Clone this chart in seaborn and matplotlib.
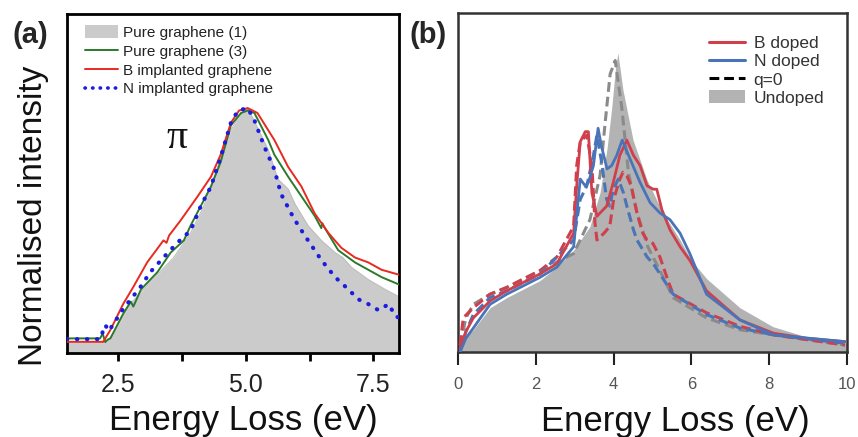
import matplotlib
matplotlib.use("Agg")
import matplotlib.pyplot as plt
import seaborn as sns
from matplotlib.lines import Line2D
from matplotlib.patches import Patch
from matplotlib.ticker import MultipleLocator

# ---- panel (a): measured low-loss spectra (normalised to pi peak) ----
e_pure1 = [1.5, 2.3, 2.48, 2.74, 3.0, 3.27, 3.59, 3.92, 4.18, 4.45, 4.71, 4.91, 5.04,
           5.23, 5.44, 5.63, 5.83, 5.96, 6.22, 6.48, 6.75, 6.9, 7.07, 7.4, 7.73, 8.0]
i_pure1 = [0.045, 0.045, 0.107, 0.20, 0.26, 0.32, 0.39, 0.49, 0.60, 0.76, 0.91, 0.98, 1.0,
           0.92, 0.83, 0.71, 0.67, 0.61, 0.52, 0.46, 0.41, 0.39, 0.35, 0.30, 0.26, 0.23]

e_pure3 = [1.5, 2.15, 2.2, 2.25, 2.3, 2.35, 2.6, 2.75, 2.8, 2.95, 3.27, 3.53, 3.79, 3.92,
           4.12, 4.32, 4.51, 4.71, 4.91, 5.04, 5.17, 5.44, 5.56, 5.83, 6.09, 6.35, 6.48,
           6.5, 6.55, 6.81, 7.14, 7.4, 7.66, 8.0]
i_pure3 = [0.06, 0.06, 0.08, 0.045, 0.055, 0.06, 0.16, 0.21, 0.19, 0.26, 0.33, 0.41, 0.46, 0.52,
           0.60, 0.68, 0.78, 0.93, 0.98, 0.99, 0.98, 0.87, 0.81, 0.72, 0.64, 0.56, 0.51,
           0.53, 0.51, 0.42, 0.37, 0.34, 0.31, 0.28]

e_bimp = [1.5, 2.21, 2.35, 2.6, 2.8, 3.07, 3.39, 3.45, 3.5, 3.72, 4.06, 4.32, 4.51, 4.71,
          4.87, 5.04, 5.23, 5.56, 5.83, 6.09, 6.35, 6.62, 6.87, 7.14, 7.4, 7.66, 8.0]
i_bimp = [0.046, 0.046, 0.094, 0.20, 0.27, 0.37, 0.46, 0.45, 0.48, 0.54, 0.64, 0.72, 0.81, 0.94,
          0.99, 1.0, 0.98, 0.87, 0.76, 0.68, 0.57, 0.49, 0.43, 0.39, 0.37, 0.34, 0.32]

e_nimp = [1.5, 2.15, 2.25, 2.32, 2.6, 2.94, 3.13, 3.39, 3.66, 3.92, 4.12, 4.32, 4.51, 4.71,
          4.85, 5.04, 5.17, 5.37, 5.56, 5.69, 5.89, 6.03, 6.22, 6.48, 6.75, 7.01, 7.2, 7.4,
          7.6, 7.8, 7.93, 8.0]
i_nimp = [0.057, 0.057, 0.115, 0.09, 0.18, 0.27, 0.33, 0.39, 0.45, 0.50, 0.60, 0.68, 0.80, 0.94,
          0.99, 1.0, 0.95, 0.84, 0.75, 0.65, 0.57, 0.52, 0.46, 0.38, 0.31, 0.26, 0.22, 0.20,
          0.175, 0.20, 0.15, 0.145]

# ---- panel (b): calculated loss functions ----
e_undoped = [0, 0.1, 0.39, 0.82, 1.25, 2.1, 2.54, 2.97, 3.39, 3.65, 3.83, 3.95, 4.05, 4.11,
             4.24, 4.5, 4.86, 5.27, 5.71, 6.0, 6.4, 7.25, 8.1, 8.97, 9.95, 10]
i_undoped = [0, 0.03, 0.065, 0.13, 0.16, 0.21, 0.25, 0.30, 0.37, 0.47, 0.60, 0.72, 0.84, 0.882,
             0.773, 0.625, 0.507, 0.41, 0.33, 0.27, 0.215, 0.13, 0.074, 0.044, 0.027, 0.026]

e_undoped_q0 = [0.05, 0.2, 0.39, 0.82, 1.25, 2.11, 2.97, 3.39, 3.65, 3.78, 3.91, 4.04, 4.21,
                4.38, 4.6, 4.88, 5.19, 5.53, 6.39, 7.25, 8.11, 9.95]
i_undoped_q0 = [0.02, 0.10, 0.14, 0.17, 0.19, 0.24, 0.29, 0.39, 0.52, 0.675, 0.82, 0.86, 0.72,
                0.53, 0.41, 0.31, 0.24, 0.16, 0.10, 0.065, 0.05, 0.02]

e_bdop = [0.05, 0.2, 0.39, 0.82, 1.25, 2.11, 2.54, 2.97, 3.05, 3.14, 3.27, 3.35, 3.44, 3.57,
          3.65, 3.82, 3.99, 4.16, 4.34, 4.51, 4.68, 4.86, 5.02, 5.11, 5.24, 5.45, 5.71, 5.96,
          6.39, 7.25, 8.11, 8.96, 9.95]
i_bdop = [0.01, 0.06, 0.10, 0.15, 0.18, 0.23, 0.26, 0.35, 0.49, 0.62, 0.65, 0.65, 0.47, 0.40,
          0.41, 0.43, 0.50, 0.58, 0.625, 0.58, 0.55, 0.49, 0.48, 0.48, 0.42, 0.36, 0.31, 0.27,
          0.18, 0.094, 0.055, 0.04, 0.03]

e_ndop = [0.05, 0.2, 0.39, 0.82, 1.25, 2.11, 2.54, 2.97, 3.14, 3.27, 3.35, 3.48, 3.6, 3.68,
          3.83, 3.95, 4.08, 4.22, 4.42, 4.68, 4.94, 5.19, 5.45, 5.71, 5.96, 6.39, 7.25, 8.11, 9.95]
i_ndop = [0.0, 0.04, 0.07, 0.14, 0.17, 0.22, 0.25, 0.31, 0.51, 0.49, 0.50, 0.55, 0.66, 0.61,
          0.54, 0.55, 0.58, 0.625, 0.57, 0.50, 0.44, 0.41, 0.39, 0.35, 0.29, 0.17, 0.094, 0.05, 0.03]

e_bdop_q0 = [0.05, 0.13, 0.39, 0.82, 1.25, 2.11, 2.54, 2.97, 3.05, 3.14, 3.31, 3.44, 3.52, 3.57,
             3.75, 3.9, 4.0, 4.16, 4.24, 4.34, 4.45, 4.6, 4.75, 4.86, 5.01, 5.19, 5.4, 5.53,
             6.39, 7.25, 8.11, 9.95]
i_bdop_q0 = [0.02, 0.10, 0.13, 0.17, 0.19, 0.24, 0.28, 0.37, 0.55, 0.62, 0.64, 0.55, 0.38, 0.33,
             0.35, 0.37, 0.45, 0.51, 0.53, 0.52, 0.49, 0.41, 0.35, 0.33, 0.32, 0.28, 0.21, 0.17,
             0.115, 0.075, 0.05, 0.02]

e_ndop_q0 = [0.05, 0.2, 0.39, 0.82, 1.25, 2.11, 2.97, 3.14, 3.31, 3.48, 3.57, 3.69, 3.82, 3.9,
             3.99, 4.12, 4.25, 4.34, 4.51, 4.6, 4.86, 5.02, 5.53, 6.39, 7.25, 8.11, 9.95]
i_ndop_q0 = [0.0, 0.06, 0.11, 0.16, 0.18, 0.23, 0.33, 0.45, 0.49, 0.58, 0.64, 0.56, 0.45, 0.43,
             0.48, 0.51, 0.47, 0.43, 0.36, 0.33, 0.28, 0.26, 0.17, 0.11, 0.07, 0.05, 0.025]

a_ticks = [2.5, 5.0, 7.5]
b_ticks = [0, 2, 4, 6, 8, 10]

sns.set_theme(style="white")
plt.rcParams["font.family"] = ["Liberation Sans", "DejaVu Sans"]

fig = plt.figure(figsize=(8.58, 4.37), dpi=100)
ax_a = fig.add_axes([0.078, 0.192, 0.387, 0.776])
ax_b = fig.add_axes([0.534, 0.195, 0.453, 0.775])

# %% panel (a)
ax_a.fill_between(e_pure1, i_pure1, 0, color="#cbcbcb", lw=0, zorder=1)
ax_a.plot(e_pure1, i_pure1, color="#bdbdbd", lw=0.8, zorder=1.5)
sns.lineplot(x=e_pure3, y=i_pure3, ax=ax_a, color="#2b7a2b", lw=1.4, sort=False, zorder=3)
sns.lineplot(x=e_bimp, y=i_bimp, ax=ax_a, color="#e8291f", lw=1.4, sort=False, zorder=4)
sns.lineplot(x=e_nimp, y=i_nimp, ax=ax_a, color="#1c1ce0", lw=3.0, sort=False, zorder=5,
             linestyle=(0, (0.1, 2.3)), dash_capstyle="round")

ax_a.set_xlim(1.5, 8.0)
ax_a.set_ylim(0, 1.384)
ax_a.set_xticks(a_ticks)
ax_a.set_xticklabels(["2.5", "5.0", "7.5"])
ax_a.xaxis.set_minor_locator(MultipleLocator(1.25))
ax_a.set_yticks([])
ax_a.tick_params(axis="x", which="both", bottom=True, direction="out", length=6, width=2,
                 color="black", labelsize=18, pad=8, labelcolor="#222222")
for sp in ax_a.spines.values():
    sp.set_color("black")
    sp.set_linewidth(2)
ax_a.set_xlabel("Energy Loss (eV)", fontsize=25, color="#111111")
ax_a.xaxis.set_label_coords(0.53, -0.15)
ax_a.set_ylabel("Normalised intensity", fontsize=24, color="#111111")
ax_a.yaxis.set_label_coords(-0.055, 0.404)
ax_a.text(3.65, 0.88, "π", fontsize=30, family=["Liberation Serif", "DejaVu Serif"],
          ha="center", va="center", color="#111111")

h_a = [Patch(facecolor="#cbcbcb", edgecolor="none"),
       Line2D([], [], color="#2b7a2b", lw=1.4),
       Line2D([], [], color="#e8291f", lw=1.4),
       Line2D([], [], color="#1c1ce0", lw=2.6, linestyle=(0, (0.1, 2.0)), dash_capstyle="round")]
l_a = ["Pure graphene (1)", "Pure graphene (3)", "B implanted graphene", "N implanted graphene"]
ax_a.legend(h_a, l_a, loc="upper left", frameon=False, fontsize=11, labelspacing=0.28,
            handlelength=2.2, handleheight=0.9, handletextpad=0.3,
            borderaxespad=0.0, bbox_to_anchor=(0.035, 0.985), labelcolor="#222222")

# %% panel (b)
red, blue, grey = "#d0404c", "#4a74b8", "#8a8a8a"
dash = (0, (3.2, 1.6))
ax_b.fill_between(e_undoped, i_undoped, 0, color="#b3b3b3", lw=0, zorder=1)
sns.lineplot(x=e_undoped_q0, y=i_undoped_q0, ax=ax_b, color=grey, lw=2.2, linestyle=dash,
             sort=False, zorder=2)
sns.lineplot(x=e_bdop_q0, y=i_bdop_q0, ax=ax_b, color=red, lw=2.2, linestyle=dash,
             sort=False, zorder=3)
sns.lineplot(x=e_ndop_q0, y=i_ndop_q0, ax=ax_b, color=blue, lw=2.2, linestyle=dash,
             sort=False, zorder=3)
sns.lineplot(x=e_bdop, y=i_bdop, ax=ax_b, color=red, lw=2.0, sort=False, zorder=4)
sns.lineplot(x=e_ndop, y=i_ndop, ax=ax_b, color=blue, lw=2.0, sort=False, zorder=5)

ax_b.set_xlim(0, 10)
ax_b.set_ylim(0, 1.0)
ax_b.set_xticks(b_ticks)
ax_b.set_yticks([])
ax_b.tick_params(axis="x", bottom=True, direction="out", length=9.5, width=1.5,
                 color="#222222", labelsize=12, pad=9, labelcolor="#555555")
for sp in ax_b.spines.values():
    sp.set_color("#333333")
    sp.set_linewidth(1.8)
ax_b.set_xlabel("Energy Loss (eV)", fontsize=25, color="#111111")
ax_b.xaxis.set_label_coords(0.558, -0.156)

h_b = [Line2D([], [], color=red, lw=2.2),
       Line2D([], [], color=blue, lw=2.2),
       Line2D([], [], color="black", lw=2.2, linestyle=dash),
       Patch(facecolor="#b3b3b3", edgecolor="none")]
l_b = ["B doped", "N doped", "q=0", "Undoped"]
ax_b.legend(h_b, l_b, loc="upper right", frameon=False, fontsize=12.5, labelspacing=0.15,
            handlelength=2.1, handleheight=0.8, handletextpad=0.5,
            borderaxespad=0.0, bbox_to_anchor=(0.96, 0.955), labelcolor="#333333")

fig.text(0.035, 0.92, "(a)", fontsize=21, fontweight="bold", ha="center", va="center")
fig.text(0.499, 0.92, "(b)", fontsize=21, fontweight="bold", ha="center", va="center")

fig.savefig("out.png", dpi=100)
